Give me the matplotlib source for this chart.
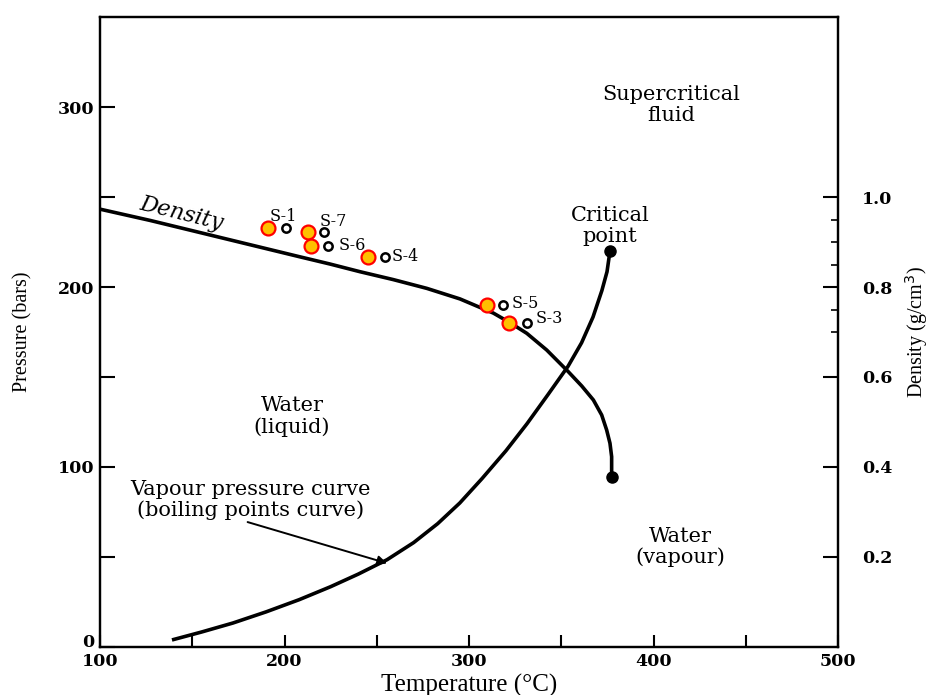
import matplotlib
matplotlib.use("Agg")
import matplotlib.pyplot as plt
from matplotlib.ticker import FixedLocator, NullFormatter

# saturated liquid density curve (temperature in C, density in g/cm3)
dens_temp = [100, 127.1, 154.2, 181.3, 208.4, 224.7, 240.9, 258.9, 277.1, 295.1, 313.2,
             322.2, 331.3, 342.1, 353.8, 361.1, 367.4, 371.9, 374.6, 376.4, 377.3, 377.3]
dens_val = [0.973, 0.948, 0.921, 0.894, 0.867, 0.851, 0.834, 0.8165, 0.797, 0.7735, 0.742,
            0.7207, 0.6971, 0.660, 0.6118, 0.580, 0.5489, 0.5156, 0.4822, 0.4527, 0.4229, 0.3784]

# vapour pressure (boiling points) curve, pressure in bars
vap_temp = [139, 155, 172, 190, 208, 225, 240, 255.6, 270, 283, 295, 307, 320, 331.4,
            343, 353.7, 361, 367.2, 372, 374.8, 376.4]
vap_pres = [3.9, 8.3, 13.3, 19.5, 26.3, 33.5, 40.5, 48.5, 58, 68.5, 80, 93.5, 109, 124,
            140.5, 156, 169, 183.3, 198, 208.5, 220]

# samples
samples = ['S-1', 'S-7', 'S-6', 'S-4', 'S-5', 'S-3']
samp_temp_a = [190.8, 212.5, 214.1, 245.5, 309.5, 321.4]
samp_temp_b = [200.8, 221.4, 223.6, 254.2, 318.6, 331.2]
samp_dens = [0.932, 0.922, 0.891, 0.867, 0.760, 0.719]

xticks = [100, 150, 200, 250, 300, 350, 400, 450, 500]
xlabels = ['100', '', '200', '', '300', '', '400', '', '500']
yticks = [0, 50, 100, 150, 200, 250, 300]
ylabels = ['0', '', '100', '', '200', '', '300']
dticks = [0.2, 0.4, 0.6, 0.8, 1.0]
dminor = [0.7, 0.75, 0.85, 0.9, 0.95]

plt.rcParams['font.family'] = 'DejaVu Serif'

fig = plt.figure(figsize=(9.33, 6.95), dpi=100)
ax = fig.add_axes([0.1072, 0.0691, 0.791, 0.9064])
ax2 = ax.twinx()

ax.set_xlim(100, 500)
ax.set_ylim(0, 350)
ax2.set_ylim(0, 1.4)

# curves
ax2.plot(dens_temp, dens_val, color='black', lw=2.6, solid_capstyle='butt')
ax2.plot(dens_temp[-1], dens_val[-1], 'o', color='black', ms=8)
ax.plot(vap_temp, vap_pres, color='black', lw=2.6, solid_capstyle='butt')
ax.plot(vap_temp[-1], vap_pres[-1], 'o', color='black', ms=8)

# sample points
ax2.plot(samp_temp_a, samp_dens, 'o', ms=10, mfc='#FFC000', mec='red', mew=1.6, ls='none')
ax2.plot(samp_temp_b, samp_dens, 'o', ms=6, mfc='white', mec='black', mew=1.8, ls='none')
offs = [(-3, 11, 'center'), (9, 11, 'center'), (11, 1, 'left'), (7, 0, 'left'),
        (8, 2, 'left'), (9, 5, 'left')]
for name, t, d, o in zip(samples, samp_temp_b, samp_dens, offs):
    ax2.annotate(name, (t, d), xytext=o[:2], textcoords='offset pixels',
                 ha=o[2], va='center', fontsize=11.5)

# region labels
ax.text(409.5, 301, 'Supercritical\nfluid', ha='center', va='center', fontsize=15, linespacing=1.1)
ax.text(376.4, 234, 'Critical\npoint', ha='center', va='center', fontsize=15, linespacing=1.1)
ax.text(204, 128, 'Water\n(liquid)', ha='center', va='center', fontsize=15, linespacing=1.1)
ax.text(414.4, 55.6, 'Water\n(vapour)', ha='center', va='center', fontsize=15, linespacing=1.1)
ax.text(144.4, 241, 'Density', rotation=-14, rotation_mode='anchor', style='italic',
        ha='center', va='center', fontsize=16)
ax.text(181.8, 81.7, 'Vapour pressure curve\n(boiling points curve)', ha='center', va='center',
        fontsize=15, linespacing=1.1)
ax.annotate('', xy=(255.6, 46.5), xytext=(180, 69.4),
            arrowprops=dict(arrowstyle='-|>', color='black', lw=1.4, mutation_scale=14,
                            shrinkA=0, shrinkB=0))

# ticks
ax.set_xticks(xticks)
ax.set_xticklabels(xlabels)
ax.set_yticks(yticks)
ax.set_yticklabels(ylabels)
ax.tick_params(axis='both', direction='in', length=9, width=1.5, labelsize=12.5, pad=4)
ax.tick_params(axis='y', length=11)
ax2.set_yticks(dticks)
ax2.set_yticklabels(['%.1f' % d for d in dticks])
ax2.yaxis.set_minor_locator(FixedLocator(dminor))
ax2.yaxis.set_minor_formatter(NullFormatter())
ax2.tick_params(axis='y', which='major', direction='in', length=11, width=1.5, labelsize=12.5, pad=17)
ax2.tick_params(axis='y', which='minor', direction='in', length=5, width=1.2)
for lab in ax.get_xticklabels() + ax.get_yticklabels() + ax2.get_yticklabels():
    lab.set_fontweight('bold')
# "0" sits on the corner, just above the "100" of the temperature axis
ax.get_yticklabels()[0].set_va('baseline')

for a in (ax, ax2):
    for s in a.spines.values():
        s.set_linewidth(1.6)

ax.set_xlabel('Temperature (\u00b0C)', family='Liberation Serif', fontsize=18, labelpad=3)
ax.set_ylabel('Pressure (bars)', family='Liberation Serif', fontsize=14.5, labelpad=18)
ax2.set_ylabel('Density (g/cm$^3$)', family='Liberation Serif', fontsize=14.5, labelpad=8)

fig.savefig('out.png', dpi=100)
